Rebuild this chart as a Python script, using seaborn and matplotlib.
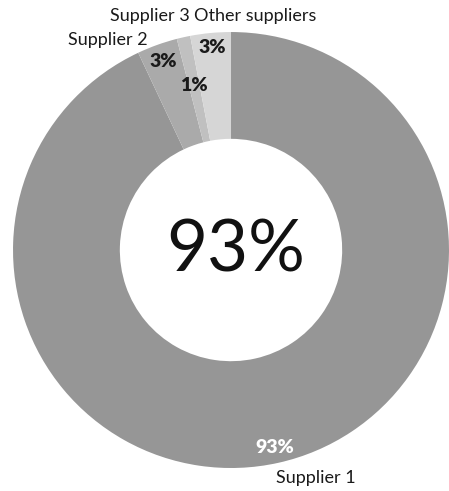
import matplotlib
matplotlib.use("Agg")
import matplotlib.pyplot as plt
import seaborn as sns
import numpy as np

categories = ["Supplier 1", "Supplier 2", "Supplier 3", "Other suppliers"]
shares = [93, 3, 1, 3]
pct_labels = ["93%", "3%", "1%", "3%"]
center_label = "93%"

colors = ["#969696", "#aaaaaa", "#c0c0c0", "#d6d6d6"]

sns.set_theme(style="white")
plt.rcParams["font.family"] = ["Lato", "DejaVu Sans"]

fig = plt.figure(figsize=(4.49, 4.91), dpi=100)
ax = fig.add_axes([0.029, 0.0468, 0.971, 0.888])

wedges, _ = ax.pie(shares, colors=colors, startangle=90, counterclock=False,
                   radius=1.0, wedgeprops=dict(width=0.49, linewidth=0))
ax.set_xlim(-1, 1)
ax.set_ylim(-1, 1)
ax.set_aspect("equal")
ax.axis("off")

# percentage labels along wedge mid-angles
pct_r = [0.93, 0.92, 0.775, 0.935]
pct_color = ["white", "#1a1a1a", "#1a1a1a", "#1a1a1a"]
for w, lab, r, c in zip(wedges, pct_labels, pct_r, pct_color):
    mid = np.deg2rad((w.theta1 + w.theta2) / 2)
    ax.text(r * np.cos(mid), r * np.sin(mid), lab, ha="center", va="center",
            fontsize=14, fontweight="heavy", color=c)

# category name labels
name_pos = [(0.39, -1.046), (-0.564, 0.963), (-0.372, 1.073), (0.11, 1.073)]
for name, (x, y) in zip(categories, name_pos):
    ax.text(x, y, name, ha="center", va="center", fontsize=13, color="#1a1a1a",
            clip_on=False)

ax.text(0.02, -0.10, center_label, ha="center", va="baseline", fontsize=51,
        color="#111111")

fig.savefig("out.png", dpi=100)
